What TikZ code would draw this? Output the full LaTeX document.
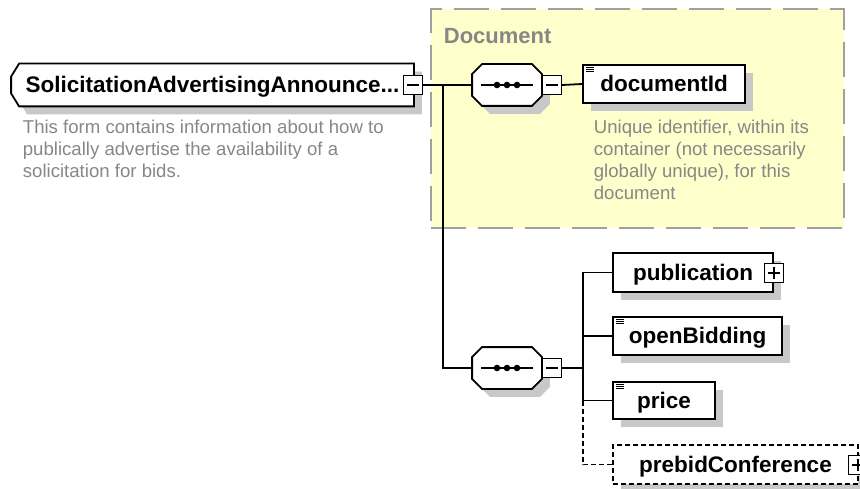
\documentclass[tikz,border=0pt]{standalone}
\usepackage{fontspec}
\setmainfont{Liberation Sans}
\usetikzlibrary{shadows,backgrounds}
\definecolor{docyellow}{RGB}{255,255,204}
\definecolor{docgray}{RGB}{160,160,160}
\definecolor{notegray}{RGB}{135,135,135}
\definecolor{shadegray}{RGB}{200,200,200}

\begin{document}
\begin{tikzpicture}[x=1pt, y=-1pt, line width=1.8pt,
  boxshadow/.style={drop shadow={shadow xshift=8pt, shadow yshift=-8pt, fill=shadegray, opacity=1}},
  label font/.style={font=\fontsize{22.5}{26}\selectfont\bfseries, text height=16pt, text depth=1pt},
  elem/.style={draw, fill=white, boxshadow, inner sep=0pt, label font},
  outline/.style={draw=black, fill=white, line width=1.8pt, boxshadow},
  seq/.style={inner sep=0pt, minimum width=68pt, minimum height=40pt},
  toggle/.style={draw, fill=white, line width=1.4pt, minimum size=19pt, inner sep=0pt},
  note/.style={anchor=north west, align=left, inner sep=0pt, text=notegray, font=\fontsize{18.6}{21.8}\selectfont},
  opt/.style={dash pattern=on 5pt off 3pt}]
  \useasboundingbox (0,0) rectangle (860,489);
  \node[anchor=base west, inner sep=0pt, text=notegray, font=\fontsize{22}{26}\selectfont\bfseries] (doclabel) at (443,44) {Document};

  \node[inner sep=0pt, label font, minimum width=401pt, minimum height=41pt] (root) at (212.5,85) {SolicitationAdvertisingAnnounce...};
  \node[toggle] (rootminus) at (413,85) {};
  \node[note] (rootnote) at (22,119.5) {This form contains information about how to\\publically advertise the availability of a\\solicitation for bids.};

  \node[seq] (seq1) at (507,85) {};
  \node[toggle] (seq1minus) at (552,85) {};
  \node[elem, minimum width=162pt, minimum height=38pt] (docid) at (664,84) {documentId};
  \node[note] (docnote) at (593,119.5) {Unique identifier, within its\\container (not necessarily\\globally unique), for this\\document};

  \node[seq] (seq2) at (507,368) {};
  \node[toggle] (seq2minus) at (552,368) {};
  \node[elem, minimum width=160pt, minimum height=39pt] (pub) at (693,272.5) {publication\hspace{8pt}};
  \node[toggle] (pubplus) at (774,273) {};
  \node[elem, minimum width=169pt, minimum height=38pt] (openbid) at (697.5,336) {openBidding};
  \node[elem, minimum width=102pt, minimum height=37pt] (price) at (664,400.5) {price\hspace{14pt}};
  \node[elem, opt, line width=1.6pt, minimum width=245pt, minimum height=39pt] (prebid) at (735.5,464.5) {prebidConference\hspace{12pt}};
  \node[toggle] (prebidplus) at (858,465) {};

  % group box and chamfered outlines behind the nodes
  \begin{scope}[on background layer]
    \node[draw=docgray, fill=docyellow, line width=2.5pt, dash pattern=on 35pt off 12pt, minimum width=413pt, minimum height=219pt, inner sep=0pt] (docgroup) at (637.5,118.5) {};
    \path[outline] ([xshift=8pt]root.north west) -- (root.north east) -- (root.south east)
      -- ([xshift=8pt]root.south west) -- ([yshift=13pt]root.south west) -- ([yshift=-13pt]root.north west) -- cycle;
    \foreach \s in {seq1,seq2}
      \path[outline] ([xshift=10pt]\s.north west) -- ([xshift=-10pt]\s.north east) -- ([yshift=-10pt]\s.north east)
        -- ([yshift=10pt]\s.south east) -- ([xshift=-10pt]\s.south east) -- ([xshift=10pt]\s.south west)
        -- ([yshift=10pt]\s.south west) -- ([yshift=-10pt]\s.north west) -- cycle;
  \end{scope}

  % sequence symbols, icons and toggles
  \foreach \s in {seq1,seq2} {
    \draw[line width=1.4pt] ([xshift=9pt]\s.west) -- ([xshift=-9pt]\s.east);
    \foreach \d in {-10,0,10} \fill ([xshift=\d pt]\s.center) circle (3.3pt);
  }
  \foreach \n in {docid,openbid,price}
    \foreach \k in {3,5,7} \draw[line width=1pt] ([xshift=4pt,yshift=-\k pt]\n.north west) -- ++(8,0);
  \foreach \m in {rootminus,seq1minus,seq2minus,pubplus,prebidplus}
    \draw[line width=1.2pt] ([xshift=4pt]\m.west) -- ([xshift=-4pt]\m.east);
  \foreach \p in {pubplus,prebidplus}
    \draw[line width=1.2pt] ([yshift=-4pt]\p.north) -- ([yshift=4pt]\p.south);

  % connectors
  \coordinate (trunk) at (443,85);
  \coordinate (fork) at (583,368);
  \draw (rootminus.east) -- (seq1.west);
  \draw (trunk) |- (seq2.west);
  \draw (seq1minus.east) -- (docid.west);
  \draw (seq2minus.east) -- (fork);
  \draw (fork |- pub.west) -- (pub.west);
  \draw (fork |- openbid.west) -- (openbid.west);
  \draw (fork |- price.west) -- (price.west);
  \draw (fork |- pub.west) -- (fork |- price.west);
  \draw[opt] (fork |- price.west) -- (fork |- prebid.west) -- (prebid.west);
\end{tikzpicture}
\end{document}
